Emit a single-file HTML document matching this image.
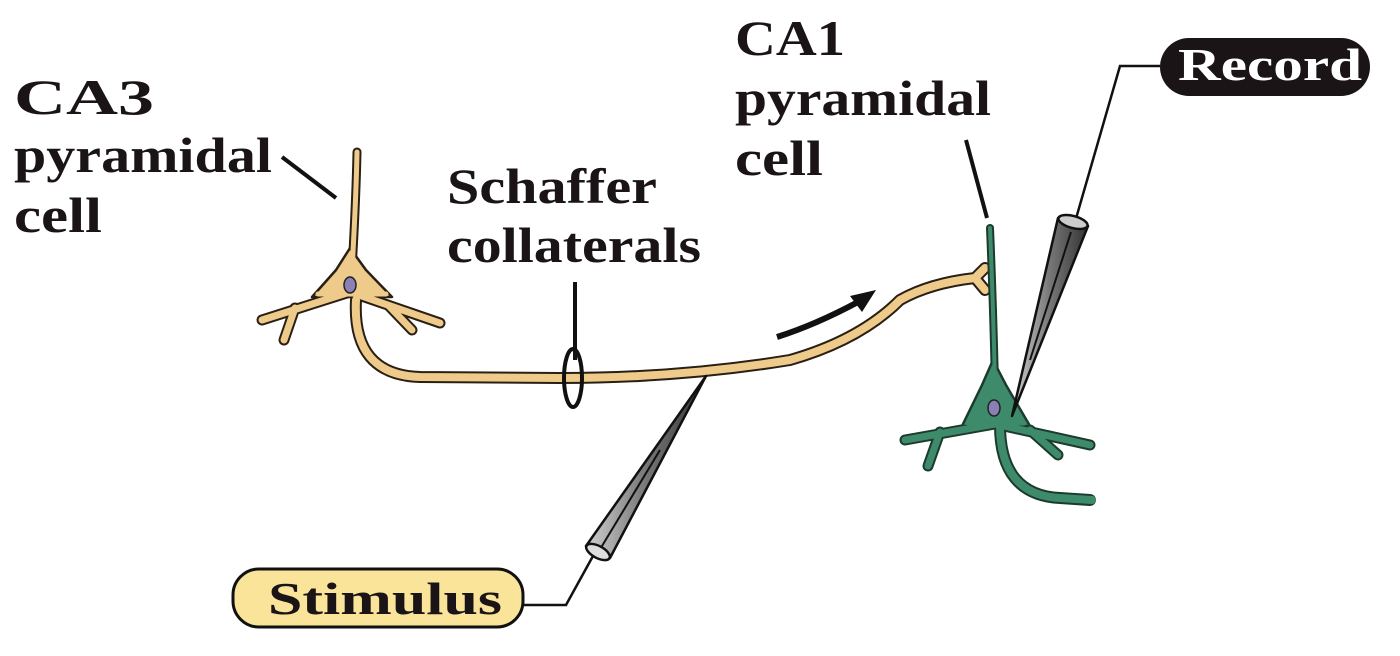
<!DOCTYPE html>
<html><head><meta charset="utf-8"><style>
html,body{margin:0;padding:0;background:#fff;}
svg{display:block;}
text{font-family:"Liberation Serif",serif;font-weight:bold;fill:#1a1416;}
</style></head><body>
<svg width="1400" height="656" viewBox="0 0 1400 656" xmlns="http://www.w3.org/2000/svg">
<defs>
<linearGradient id="g" x1="0" y1="0" x2="1" y2="0">
<stop offset="0" stop-color="#cfcfcf"/><stop offset="0.5" stop-color="#777"/><stop offset="1" stop-color="#333"/>
</linearGradient>
</defs>
<!-- labels -->
<g font-size="50">
<text x="14" y="114" textLength="140" lengthAdjust="spacingAndGlyphs">CA3</text>
<text x="14" y="172" textLength="258" lengthAdjust="spacingAndGlyphs">pyramidal</text>
<text x="14" y="232" textLength="88" lengthAdjust="spacingAndGlyphs">cell</text>
<text x="447" y="203" textLength="210" lengthAdjust="spacingAndGlyphs">Schaffer</text>
<text x="447" y="262" textLength="254" lengthAdjust="spacingAndGlyphs">collaterals</text>
<text x="735" y="55" textLength="110" lengthAdjust="spacingAndGlyphs">CA1</text>
<text x="735" y="115" textLength="256" lengthAdjust="spacingAndGlyphs">pyramidal</text>
<text x="735" y="175" textLength="88" lengthAdjust="spacingAndGlyphs">cell</text>
</g>
<g stroke="#111" stroke-width="4" fill="none">
<line x1="282" y1="157" x2="336" y2="198"/>
<line x1="575" y1="282" x2="575" y2="360"/>
<line x1="966" y1="140" x2="987" y2="218"/>
</g>
<!-- CA3 neuron -->
<g fill="none" stroke-linecap="round" stroke-linejoin="round">
<g stroke="#2a1f14">
<path d="M357 152 Q356 200 352 270" stroke-width="9"/>
<path d="M350 292 L262 320 M295 308 L284 340" stroke-width="11"/>
<path d="M350 292 L440 323 M388 305 L412 330" stroke-width="11"/>
<path d="M356 300 Q352 375 420 377 L560 378 Q680 378 790 360 Q860 340 900 300 Q930 283 975 278 M975 278 L985 268 M975 278 L985 290" stroke-width="12"/>
</g>
<path d="M350 248 L366 270 L392 297 L312 297 L336 270 Z" fill="#EECB8A" stroke="#2a1f14" stroke-width="2.5"/>
<g stroke="#EECB8A">
<path d="M357 152 Q356 200 352 270" stroke-width="5"/>
<path d="M350 292 L262 320 M295 308 L284 340" stroke-width="7"/>
<path d="M350 292 L440 323 M388 305 L412 330" stroke-width="7"/>
<path d="M356 300 Q352 375 420 377 L560 378 Q680 378 790 360 Q860 340 900 300 Q930 283 975 278 M975 278 L985 268 M975 278 L985 290" stroke-width="8"/>
<path d="M318 294 L386 294" stroke-width="5"/>
</g>
</g>
<ellipse cx="350" cy="285" rx="6" ry="8" fill="#8A80B5" stroke="#222" stroke-width="1.5"/>
<!-- CA1 neuron -->
<g fill="none" stroke-linecap="round" stroke-linejoin="round">
<g stroke="#1d3a2e">
<path d="M990 228 Q993 300 995 385" stroke-width="8"/>
<path d="M995 424 L905 440 M940 432 L928 466" stroke-width="11"/>
<path d="M995 424 L1090 445 M1030 430 L1058 455" stroke-width="11"/>
<path d="M1000 425 Q1000 495 1060 498 L1090 500" stroke-width="12"/>
</g>
<path d="M993 360 L1006 385 L1030 426 L962 426 L982 385 Z" fill="#3E8B6B" stroke="#1d3a2e" stroke-width="2.5"/>
<g stroke="#3E8B6B">
<path d="M990 228 Q993 300 995 385" stroke-width="4"/>
<path d="M995 424 L905 440 M940 432 L928 466" stroke-width="7"/>
<path d="M995 424 L1090 445 M1030 430 L1058 455" stroke-width="7"/>
<path d="M1000 425 Q1000 495 1060 498 L1092 500" stroke-width="8"/>
<path d="M968 423 L1024 423" stroke-width="5"/>
</g>
</g>
<ellipse cx="994" cy="408" rx="6" ry="8" fill="#8A80B5" stroke="#222" stroke-width="1.5"/>
<!-- arrow -->
<path d="M777 337 Q815 325 858 302" stroke="#111" stroke-width="6" fill="none"/>
<polygon points="876,290 850,296 862,312" fill="#111"/>
<!-- Schaffer ellipse -->
<ellipse cx="573" cy="378" rx="9" ry="29" fill="none" stroke="#111" stroke-width="4"/>
<!-- Stimulus electrode -->
<polyline points="523,605 566,605 593,556" fill="none" stroke="#111" stroke-width="2.5"/>
<polygon points="586,546 610,558 706,376" fill="url(#g)" stroke="#111" stroke-width="2.5" stroke-linejoin="round"/>
<line x1="602" y1="546" x2="660" y2="450" stroke="#111" stroke-width="2"/>
<ellipse cx="598" cy="552" rx="13" ry="6" transform="rotate(28 598 552)" fill="#ddd" stroke="#111" stroke-width="2.5"/>
<!-- Record electrode -->
<polyline points="1160,66 1120,66 1075,222" fill="none" stroke="#111" stroke-width="2.5"/>
<polygon points="1058,218 1088,226 1012,416" fill="url(#g)" stroke="#111" stroke-width="2.5" stroke-linejoin="round"/>
<line x1="1071" y1="232" x2="1030" y2="360" stroke="#111" stroke-width="2"/>
<ellipse cx="1073" cy="222" rx="15" ry="6" transform="rotate(15 1073 222)" fill="#ccc" stroke="#111" stroke-width="2.5"/>
<!-- Record pill -->
<rect x="1160" y="38" width="210" height="58" rx="29" fill="#1a1416"/>
<text x="1178" y="80" font-size="46" textLength="184" lengthAdjust="spacingAndGlyphs" style="fill:#fff">Record</text>
<!-- Stimulus pill -->
<rect x="233" y="569" width="290" height="58" rx="26" fill="#F9E49A" stroke="#111" stroke-width="3"/>
<text x="268" y="614" font-size="46" textLength="234" lengthAdjust="spacingAndGlyphs">Stimulus</text>
</svg>
</body></html>
